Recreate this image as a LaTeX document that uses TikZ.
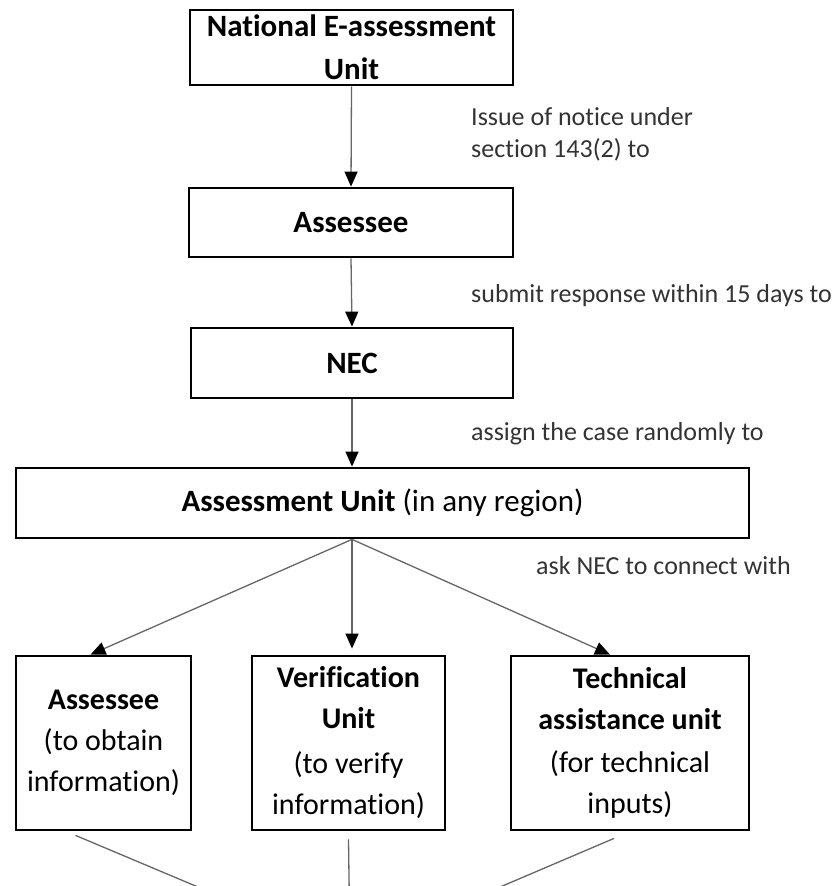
\documentclass[tikz,border=0pt]{standalone}
\usepackage{fontspec}
\setmainfont[Ligatures={NoCommon,NoContextual}]{Carlito}
\newcommand\zk{\kern0pt }
\usetikzlibrary{arrows.meta,calc}
\begin{document}
\begin{tikzpicture}[x=1pt,y=-1pt,
  box/.style={draw=black,line width=2.8pt,inner sep=0pt,align=center,font=\fontsize{30}{41}\selectfont},
  lbl/.style={anchor=west,inner sep=0pt,align=left,text=black!80,font=\fontsize{26}{32}\selectfont},
  arr/.style={draw=black!60,line width=1.3pt,-{Triangle[width=13pt,length=15pt,color=black]}},
  ln/.style={draw=black!60,line width=1.3pt}]
\useasboundingbox (0,0) rectangle (839,886);
\clip (0,0) rectangle (839,886);
\node[box,minimum width=323pt,minimum height=75pt,font=\fontsize{31}{43}\selectfont\bfseries] (T) at (351.5,47.5) {Nat\zk ional E-assessment\\Unit};
\node[box,minimum width=324pt,minimum height=69pt,font=\fontsize{31}{38}\selectfont\bfseries] (A) at (351,222.5) {Assessee};
\node[box,minimum width=322pt,minimum height=70pt,font=\fontsize{31}{38}\selectfont\bfseries] (NEC) at (352,363) {NEC};
\node[box,minimum width=733pt,minimum height=70pt,font=\fontsize{31}{38}\selectfont] (AU) at (382.5,503) {\textbf{Assessment Unit} (in any region)};
\node[box,minimum width=175pt,minimum height=174pt] (L) at (103.5,743) {\textbf{Assessee}\\(to obtain\\informat\zk ion)};
\node[box,minimum width=193pt,minimum height=174pt] (M) at (348.5,743) {\textbf{Verif\zk icat\zk ion}\\\textbf{Unit}\\[4pt](to verify\\informat\zk ion)};
\node[box,minimum width=238pt,minimum height=174pt] (R) at (630,743) {\textbf{Technical}\\\textbf{assistance unit}\\[2pt](for technical\\inputs)};
\node[lbl] (l1) at (471,134) {Issue of not\zk ice under\\sect\zk ion 143(2) to};
\node[lbl] (l2) at (471,296) {submit response within 15 days to};
\node[lbl] (l3) at (471,434) {assign the case randomly to};
\node[lbl] (l4) at (536,566) {ask NEC to connect with};
\draw[arr] (T.south) -- (A.north);
\draw[arr] (A.south) -- (NEC.north);
\draw[arr] (NEC.south) -- (AU.north -| NEC.south);
\coordinate (fork) at (AU.south -| NEC.south);
\draw[arr] (fork) -- ([xshift=-13pt]L.north);
\draw[arr] (fork) -- ($(fork |- M.north)+(0,-6)$);
\draw[arr] (fork) -- ([xshift=-20pt]R.north);
\coordinate (conv) at (350,951);
\draw[ln] ($(L.south)+(-28,4)$) -- (conv);
\draw[ln] ($(M.south)+(0,8)$) -- (conv);
\draw[ln] ($(R.south)+(-16,7)$) -- (conv);
\end{tikzpicture}
\end{document}
